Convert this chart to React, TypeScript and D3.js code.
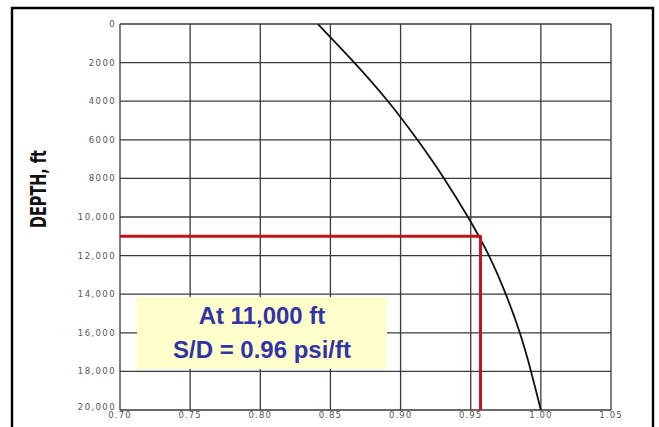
import React from 'react';
import * as d3 from 'd3';

// depth (ft) vs overburden gradient S/D (psi/ft)
const depths = [0, 2000, 4000, 6000, 8000, 10000, 12000, 14000, 16000, 18000, 20000];
const gradient = [0.841, 0.867, 0.891, 0.912, 0.931, 0.948, 0.963, 0.975, 0.985, 0.993, 1.0];

const xTicks = [0.7, 0.75, 0.8, 0.85, 0.9, 0.95, 1.0, 1.05];
const yTicks = [0, 2000, 4000, 6000, 8000, 10000, 12000, 14000, 16000, 18000, 20000];
const yTickLabels = ['0', '2000', '4000', '6000', '8000', '10,000', '12,000', '14,000', '16,000', '18,000', '20,000'];

const markDepth = 11000;
const markGradient = 0.957;
const noteLines = ['At 11,000 ft', 'S/D = 0.96 psi/ft'];

const W = 659;
const H = 427;

const App: React.FC = () => {
  const x = d3.scaleLinear().domain([0.7, 1.05]).range([120, 611]);
  const y = d3.scaleLinear().domain([0, 20000]).range([24, 410]);

  const pts = depths.map((d, i) => ({ d, g: gradient[i] }));
  const line = d3
    .line<{ d: number; g: number }>()
    .x(p => x(p.g))
    .y(p => y(p.d))
    .curve(d3.curveNatural);

  const gridColor = '#3a3a3a';
  const tickFont = 'DejaVu Sans, sans-serif';

  // note box
  const boxX = 137;
  const boxY = 297;
  const boxW = 250;
  const boxH = 72;

  return (
    <svg width={W} height={H} style={{ position: 'absolute', left: 0, top: 0, background: '#fff' }}>
      {/* outer frame, open at the bottom */}
      <path d={`M12,${H + 2} V8 H653 V${H + 2}`} fill="none" stroke="#000" strokeWidth={2.4} />

      {/* grid */}
      {xTicks.map(t => (
        <line key={'gx' + t} x1={x(t)} x2={x(t)} y1={y(0)} y2={y(20000)} stroke={gridColor} strokeWidth={1.3} />
      ))}
      {yTicks.map(t => (
        <line key={'gy' + t} x1={x(0.7)} x2={x(1.05)} y1={y(t)} y2={y(t)} stroke={gridColor} strokeWidth={1.3} />
      ))}

      {/* tick labels */}
      {yTicks.map((t, i) => (
        <text
          key={'ly' + t}
          x={116}
          y={y(t) - (i === yTicks.length - 1 ? 3 : 0)}
          dy="0.35em"
          textAnchor="end"
          fontFamily={tickFont}
          fontSize={8.5}
          letterSpacing={1.4}
          fill="#555"
        >
          {yTickLabels[i]}
        </text>
      ))}
      {xTicks.map(t => (
        <text
          key={'lx' + t}
          x={x(t)}
          y={418}
          textAnchor="middle"
          fontFamily={tickFont}
          fontSize={8.5}
          letterSpacing={1.1}
          fill="#555"
        >
          {t.toFixed(2)}
        </text>
      ))}

      {/* axis title */}
      <text
        transform={`translate(46,189) rotate(-90)`}
        textAnchor="middle"
        fontFamily="Liberation Sans Narrow, DejaVu Sans Condensed, sans-serif"
        fontWeight="bold"
        fontSize={21}
        textLength={78}
        lengthAdjust="spacingAndGlyphs"
        fill="#111"
      >
        DEPTH, ft
      </text>

      {/* overburden curve */}
      <path d={line(pts) || ''} fill="none" stroke="#111" strokeWidth={1.8} />

      {/* reading at 11,000 ft */}
      <path
        d={`M${x(0.7)},${y(markDepth)} H${x(markGradient)} V${y(20000)}`}
        fill="none"
        stroke="#c0141c"
        strokeWidth={3}
        strokeLinejoin="round"
      />

      {/* note box */}
      <rect x={boxX} y={boxY} width={boxW} height={boxH} fill="#ffffcc" />
      {noteLines.map((s, i) => (
        <text
          key={s}
          x={boxX + boxW / 2}
          y={boxY + 27 + i * 34}
          textAnchor="middle"
          fontFamily="Liberation Sans, Arial, sans-serif"
          fontWeight="bold"
          fontSize={24}
          fill="#3333a8"
        >
          {s}
        </text>
      ))}
    </svg>
  );
};

export default App;
